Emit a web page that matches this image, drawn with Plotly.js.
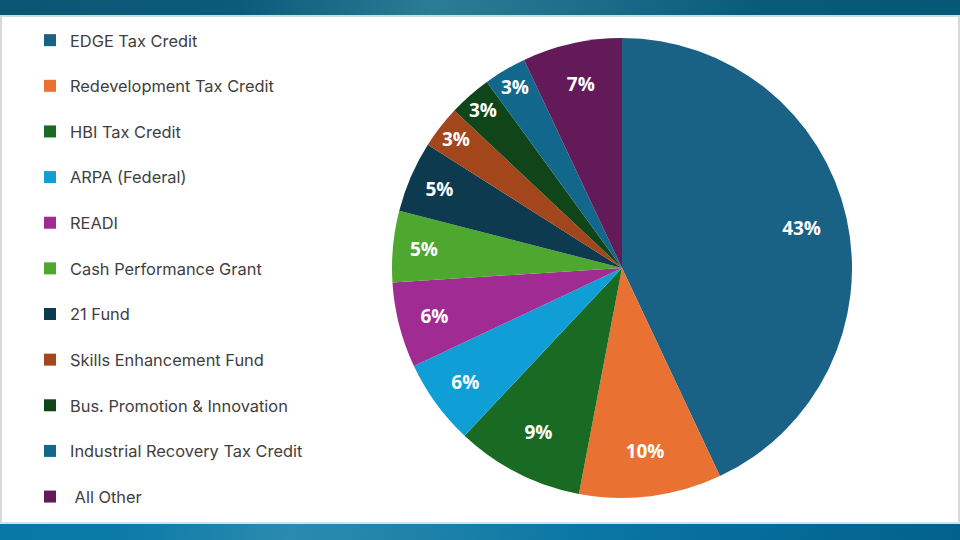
<!DOCTYPE html>
<html>
<head>
<meta charset="utf-8">
<script src="https://cdn.plot.ly/plotly-3.0.1.min.js"></script>
<style>
  html, body { margin:0; padding:0; width:960px; height:540px; overflow:hidden; background:#ffffff; }
  #topbar { position:absolute; left:0; top:0; width:960px; height:15px;
    background: linear-gradient(90deg, #0a5574 0%, #0c5b7b 25%, #2b7c96 45%, #1e6e8b 60%, #075a7a 80%, #055776 100%); }
  #topline { position:absolute; left:0; top:15px; width:960px; height:2px; background:#c9dde6; }
  #botbar { position:absolute; left:0; top:524px; width:960px; height:16px;
    background: linear-gradient(90deg, #0878a6 0%, #0a7aa7 12%, #2b8bae 30%, #1d82a8 45%, #0b77a4 60%, #056b98 80%, #03628c 100%); }
  #botline { position:absolute; left:0; top:522px; width:960px; height:2px; background:#d2e2ea; }
  #frameL { position:absolute; left:0; top:17px; width:2px; height:505px; background:#d8d8d8; }
  #frameR { position:absolute; left:958px; top:17px; width:2px; height:505px; background:#d8d8d8; }
  #chart { position:absolute; left:0; top:0; width:960px; height:540px; }
</style>
</head>
<body>
<div id="topbar"></div><div id="topline"></div>
<div id="botline"></div><div id="botbar"></div>
<div id="frameL"></div><div id="frameR"></div>
<div id="chart"></div>
<script>
const categories = [
  "EDGE Tax Credit",
  "Redevelopment Tax Credit",
  "HBI Tax Credit",
  "ARPA (Federal)",
  "READI",
  "Cash Performance Grant",
  "21 Fund",
  "Skills Enhancement Fund",
  "Bus. Promotion & Innovation",
  "Industrial Recovery Tax Credit",
  " All Other"
];
const shares = [43, 10, 9, 6, 6, 5, 5, 3, 3, 3, 7];
const colors = [
  "#196185", "#e97132", "#196b24", "#0f9ed5", "#a02b93", "#4ea72e",
  "#0e3a4f", "#a3461b", "#104519", "#12678c", "#621b58"
];

const legendLabels = categories.map(c => c + "<br>\u00a0");
const R = 230, CX = 622, CY = 268;
const pieDomain = { x: [(CX - R) / 960, (CX + R) / 960], y: [1 - (CY + R) / 540, 1 - (CY - R) / 540] };

const slices = {
  type: "pie",
  labels: legendLabels,
  values: shares,
  sort: false,
  direction: "clockwise",
  rotation: 0,
  marker: { colors: colors, line: { width: 0 } },
  textinfo: "none",
  hoverinfo: "label+percent",
  domain: pieDomain
};

// transparent ring used only to place the percentage labels near the rim
const labelsRing = {
  type: "pie",
  labels: legendLabels,
  values: shares,
  sort: false,
  direction: "clockwise",
  rotation: 0,
  hole: 0.6,
  showlegend: false,
  marker: { colors: shares.map(() => "rgba(0,0,0,0)"), line: { width: 0 } },
  textinfo: "percent",
  textposition: "inside",
  insidetextorientation: "horizontal",
  insidetextfont: { family: "Open Sans, sans-serif", size: 19, color: "#ffffff", weight: "bold" },
  hoverinfo: "skip",
  domain: pieDomain
};

const layout = {
  width: 960, height: 540,
  margin: { l: 0, r: 0, t: 0, b: 0 },
  paper_bgcolor: "rgba(0,0,0,0)",
  plot_bgcolor: "rgba(0,0,0,0)",
  showlegend: true,
  legend: {
    x: 30 / 960, xanchor: "left",
    y: 1 - 23 / 540, yanchor: "top",
    valign: "top",
    bgcolor: "rgba(0,0,0,0)",
    font: { family: "Inter, Liberation Sans, Arial, sans-serif", size: 16.4, color: "#404040" },
    traceorder: "normal"
  }
};

Plotly.newPlot("chart", [slices, labelsRing], layout, { displayModeBar: false, staticPlot: true });
</script>
</body>
</html>
